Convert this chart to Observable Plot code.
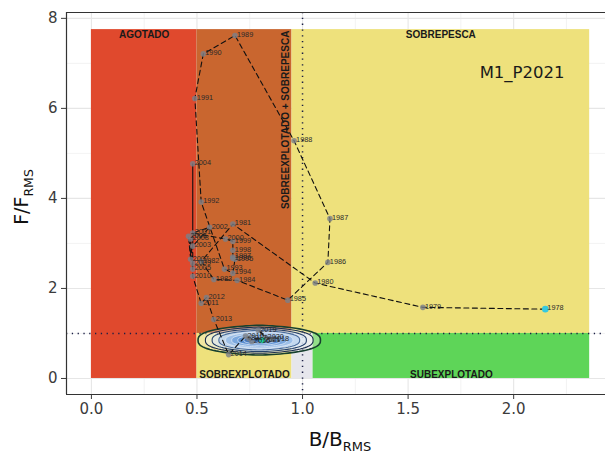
<!DOCTYPE html>
<html><head><meta charset="utf-8">
<script src="https://cdn.jsdelivr.net/npm/d3@7"></script>
<script src="https://cdn.jsdelivr.net/npm/@observablehq/plot@0.6"></script>
<style>body{margin:0;background:#fff} #chart svg{display:block}</style>
</head><body><div id="chart"></div>
<script>
// ---- data ----
const years = [1978,1979,1980,1981,1982,1983,1984,1985,1986,1987,1988,1989,1990,1991,1992,1993,1994,1995,1996,1997,1998,1999,2000,2001,2002,2003,2004,2005,2006,2007,2008,2009,2010,2011,2012,2013,2014,2015,2016,2017,2018,2019,2020,2021];
const bRatio = [2.15,1.57,1.06,0.67,0.52,0.58,0.69,0.93,1.12,1.13,0.96,0.68,0.53,0.49,0.52,0.63,0.67,0.68,0.67,0.67,0.67,0.67,0.635,0.48,0.56,0.48,0.48,0.48,0.46,0.47,0.47,0.48,0.48,0.52,0.545,0.58,0.65,0.73,0.76,0.745,0.85,0.79,0.825,0.81];
const fRatio = [1.54,1.58,2.12,3.43,2.60,2.20,2.18,1.74,2.58,3.55,5.28,7.62,7.21,6.22,3.92,2.43,2.34,2.65,2.67,2.70,2.85,3.05,3.10,3.23,3.36,2.94,4.77,2.43,3.16,2.65,3.10,2.56,2.27,1.67,1.80,1.31,0.53,0.94,0.82,0.89,0.87,1.07,0.91,0.85];
const xTicks = [0,0.5,1,1.5,2];
const yTicks = [0,2,4,6,8];
const regionNames = ["AGOTADO","SOBREEXPLOTADO + SOBREPESCA","SOBREPESCA","SOBREXPLOTADO","PLENA","SUBEXPLOTADO"];
const regionB1 = [0,0.5,0.95,0.5,0.95,1.05];
const regionB2 = [0.5,0.95,2.36,0.95,1.05,2.36];
const regionF1 = [0,1,1,0,0,0];
const regionF2 = [7.75,7.75,7.75,1,1,1];
const refB = 1, refF = 1;
const modelName = "M1_P2021";
const contourCenterB = 0.795, contourCenterF = 0.85;
const contourRadiusB = 0.29, contourRadiusF = 0.33;
const contourLevels = [1,0.88,0.77,0.66,0.55,0.45,0.35,0.25,0.15];

// ---- build tables ----
const traj = years.map((y,i)=>({year:y, B:bRatio[i], F:fRatio[i]}));
const regions = regionNames.map((n,i)=>({name:n, x1:regionB1[i], x2:regionB2[i], y1:regionF1[i], y2:regionF2[i]}));
const regionFill = {"AGOTADO":"#e0492d","SOBREEXPLOTADO + SOBREPESCA":"#c9662f","SOBREPESCA":"#eee17c","SOBREXPLOTADO":"#eee17c","PLENA":"#e6e6ec","SUBEXPLOTADO":"#5ed558"};
const ringFills = ["#f6f4e4","#eef1f2","#d9e6f4","#b9d1ee","#97bbe6","#77a4dc","#5a8dd0","#4077c2","#2d62ae"];
const ringOpac = [0.35,0.45,0.6,0.75,0.85,0.9,0.95,0.95,1];
const ringStrokes = ["#17402f","#1b2d4e","#26426c","#4a6c9c","#dfeaf7","#dfeaf7","#dfeaf7","#dfeaf7","#dfeaf7"];
const angles = d3.range(0, 360, 4).map(a => a*Math.PI/180);
const sgnPow = (v,p) => Math.sign(v)*Math.pow(Math.abs(v),p);
const ringMarks = contourLevels.map((l,i) => Plot.line(
  angles.map(t => ({B: contourCenterB + contourRadiusB*l*sgnPow(Math.cos(t),1.3), F: contourCenterF + contourRadiusF*l*sgnPow(Math.sin(t),0.75)})),
  {x:"B", y:"F", fill: ringFills[i], fillOpacity: ringOpac[i], stroke: ringStrokes[i], strokeWidth: i===0 ? 1.6 : (i<4 ? 1.1 : 0.8), curve:"linear-closed"}));

const xDom = [-0.118, 2.435], yDom = [-0.356, 8.13];
const gridMajX = [0,0.5,1,1.5,2], gridMinX = [0.25,0.75,1.25,1.75,2.25];
const gridMajY = [0,2,4,6,8], gridMinY = [1,3,5,7];
const lab = "Liberation Sans, Arial, sans-serif";

const plot = Plot.plot({
  width: 605, height: 455,
  marginLeft: 66, marginRight: 0, marginTop: 12, marginBottom: 61,
  x: {domain: xDom, label: null},
  y: {domain: yDom, label: null},
  style: {fontFamily: "DejaVu Sans, sans-serif", background: "white"},
  marks: [
    Plot.ruleX(gridMinX, {stroke:"#ebebeb", strokeWidth:0.6}),
    Plot.ruleY(gridMinY, {stroke:"#ebebeb", strokeWidth:0.6}),
    Plot.ruleX(gridMajX, {stroke:"#e6e6e6", strokeWidth:1.1}),
    Plot.ruleY(gridMajY, {stroke:"#e6e6e6", strokeWidth:1.1}),
    Plot.rect(regions, {x1:"x1", x2:"x2", y1:"y1", y2:"y2", fill: d => regionFill[d.name]}),
    Plot.ruleX([refB], {stroke:"#1b1f45", strokeWidth:1.5, strokeDasharray:"1.3,4.5"}),
    Plot.ruleY([refF], {stroke:"#1b1f45", strokeWidth:1.5, strokeDasharray:"1.3,4.5"}),
    ...ringMarks,
    Plot.line(traj, {x:"B", y:"F", stroke:"#111", strokeWidth:1.1, strokeDasharray:"5,3.5"}),
    Plot.dot(traj.slice(1, -1), {x:"B", y:"F", r:2.8, fill:"#7a7f88", fillOpacity:0.8, stroke:"none"}),
    Plot.dot(traj.slice(0,1), {x:"B", y:"F", r:3.3, fill:"#35c9e0", stroke:"none"}),
    Plot.dot(traj.slice(-1), {x:"B", y:"F", r:3, fill:"#1fcf9f", stroke:"none"}),
    Plot.text(traj, {x:"B", y:"F", text: d => String(d.year), dx:2, dy:-1, textAnchor:"start", fontSize:7.3, fill:"#2a2a2a", fontFamily:lab}),
    Plot.text(regions.filter(d=>d.name==="AGOTADO"||d.name==="SOBREPESCA"), {x: d => (d.x1+d.x2)/2, y: d => d.y2, dy: 5, text:"name", fontSize:10, fontWeight:"bold", fill:"#1a1a1a", fontFamily:lab}),
    Plot.text(regions.filter(d=>d.name==="SOBREEXPLOTADO + SOBREPESCA"), {x: d => d.x2, y: d => d.y2, dx: -6, dy: 1, rotate:-90, textAnchor:"end", text:"name", fontSize:10, fontWeight:"bold", fill:"#1a1a1a", fontFamily:lab}),
    Plot.text(regions.filter(d=>d.name==="SOBREXPLOTADO"||d.name==="SUBEXPLOTADO"), {x: d => (d.x1+d.x2)/2, y: d => d.y1, dy: -4, text:"name", fontSize:10, fontWeight:"bold", fill:"#1a1a1a", fontFamily:lab}),
    Plot.text([modelName], {x: 2.04, y: 6.79, text: d => d, fontSize:16.5, fill:"#1a1a1a", fontFamily:"DejaVu Sans, sans-serif"}),
    Plot.axisX({ticks: xTicks, tickFormat: d3.format(".1f"), tickSize:5, tickPadding:4, fontSize:15, color:"#3b3b3b", label:null}),
    Plot.axisY({ticks: yTicks, tickFormat: d3.format("d"), tickSize:5, tickPadding:4, fontSize:15, color:"#3b3b3b", label:null}),
    Plot.ruleX([xDom[0]], {stroke:"#333", strokeWidth:1.2}),
    Plot.ruleY([yDom[0], yDom[1]], {stroke:"#333", strokeWidth:1.2})
  ]
});
document.getElementById("chart").append(plot);

// axis titles with subscripts
const svg = d3.select(plot);
const xt = svg.append("text").attr("x", 340).attr("y", 446).attr("text-anchor","middle")
  .attr("font-family","DejaVu Sans, sans-serif").attr("font-size",20).attr("fill","#111");
xt.append("tspan").text("B/B");
xt.append("tspan").attr("font-size",13).attr("dy",5).text("RMS");
const yt = svg.append("text").attr("transform","translate(28,197) rotate(-90)").attr("text-anchor","middle")
  .attr("font-family","DejaVu Sans, sans-serif").attr("font-size",19).attr("fill","#111");
yt.append("tspan").text("F/F");
yt.append("tspan").attr("font-size",12.5).attr("dy",5).text("RMS");
</script>
</body></html>
